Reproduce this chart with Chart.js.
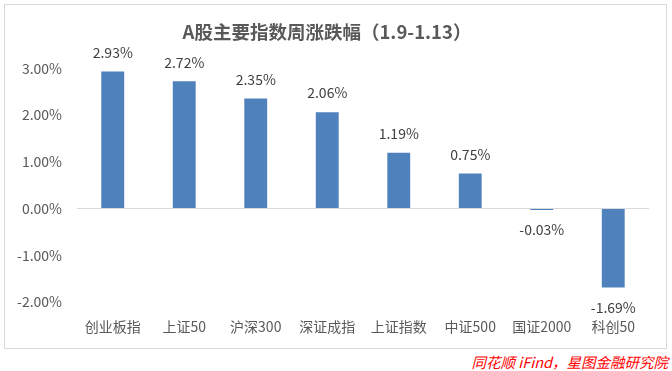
<!DOCTYPE html>
<html>
<head>
<meta charset="utf-8">
<script src="https://cdn.jsdelivr.net/npm/chart.js@4"></script>
<style>
    body { margin: 0; background: #fff; width: 672px; height: 371px; position: relative; overflow: hidden; }
    #box { position: absolute; left: 4px; top: 4px; width: 661px; height: 343px; border: 1px solid #d9d9d9; }
    #source { position: absolute; right: 4px; top: 351px; color: #ff0000; font-style: italic; font-size: 14.5px; font-family: 'Noto Sans CJK SC', sans-serif; }
</style>
</head>
<body>
<div id="box"><canvas id="chart" width="661" height="343"></canvas></div>
<div id="source">同花顺 iFind，星图金融研究院</div>
<script>
const categories = ['创业板指', '上证50', '沪深300', '深证成指', '上证指数', '中证500', '国证2000', '科创50'];
const weeklyChange = [2.93, 2.72, 2.35, 2.06, 1.19, 0.75, -0.03, -1.69];
const yTicks = [-2, -1, 0, 1, 2, 3];

const fontFamily = "'Noto Sans CJK SC', 'Noto Sans', sans-serif";

// draws value labels above positive bars and below negative ones
const valueLabels = {
    id: 'valueLabels',
    afterDatasetsDraw(chart) {
        const ctx = chart.ctx;
        const meta = chart.getDatasetMeta(0);
        ctx.save();
        ctx.font = '14px ' + fontFamily;
        ctx.fillStyle = '#404040';
        ctx.textAlign = 'center';
        ctx.textBaseline = 'middle';
        meta.data.forEach((bar, i) => {
            const v = weeklyChange[i];
            const y = v >= 0 ? bar.y - 19 : bar.y + 20;
            ctx.fillText(v.toFixed(2) + '%', bar.x, y);
        });
        ctx.restore();
    }
};

new Chart(document.getElementById('chart'), {
    type: 'bar',
    data: {
        labels: categories,
        datasets: [{
            data: weeklyChange,
            backgroundColor: '#4f81bd',
            barPercentage: 0.32,
            categoryPercentage: 1
        }]
    },
    options: {
        responsive: false,
        animation: false,
        layout: { padding: { left: 0, right: 17, top: 0, bottom: 2 } },
        plugins: {
            legend: { display: false },
            tooltip: { enabled: false },
            title: {
                display: true,
                text: 'A股主要指数周涨跌幅（1.9-1.13）',
                color: '#595959',
                font: { family: fontFamily, size: 18.5, weight: 'bold' },
                padding: { top: 16, bottom: 25 }
            }
        },
        scales: {
            x: {
                grid: { display: false },
                border: { display: false },
                ticks: { color: '#595959', font: { family: fontFamily, size: 14 }, padding: 8 },
                afterFit: (scale) => { scale.height = 44; }
            },
            y: {
                min: -2,
                max: 3,
                afterBuildTicks: (scale) => { scale.ticks = yTicks.map(v => ({ value: v })); },
                grid: {
                    drawTicks: false,
                    color: (c) => c.tick && c.tick.value === 0 ? '#d9d9d9' : 'rgba(0,0,0,0)'
                },
                border: { display: false },
                ticks: {
                    color: '#595959',
                    font: { family: fontFamily, size: 14 },
                    padding: 15,
                    callback: (v) => v.toFixed(2) + '%'
                },
                afterFit: (scale) => { scale.width = 72; }
            }
        }
    },
    plugins: [valueLabels]
});
</script>
</body>
</html>
